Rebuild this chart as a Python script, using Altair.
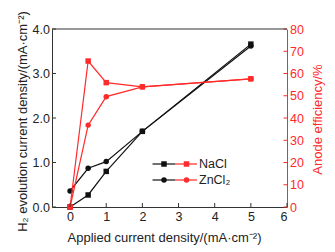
import altair as alt
import pandas as pd

# Data
applied = [0, 0.5, 1, 2, 5]
h2_nacl = [0.0, 0.27, 0.80, 1.70, 3.66]
h2_zncl2 = [0.36, 0.87, 1.02, 1.70, 3.62]
eff_nacl = [0.0, 65.6, 55.9, 54.0, 57.6]
eff_zncl2 = [0.0, 36.8, 49.6, 54.0, 57.6]

series_names = ["NaCl", "ZnCl2"]
legend_labels = ["NaCl", "ZnCl₂"]
x_ticks = [0, 1, 2, 3, 4, 5, 6]
left_ticks = [0, 1, 2, 3, 4]
right_ticks = [0, 10, 20, 30, 40, 50, 60, 70, 80]

BLACK = "#111111"
RED = "#ff2a2a"
AXIS = "#333333"
FONT = "Liberation Sans"
W, H = 235, 178

df = pd.DataFrame({
    "x": applied * 2,
    "h2": h2_nacl + h2_zncl2,
    "eff": eff_nacl + eff_zncl2,
    "series": [series_names[0]] * len(applied) + [series_names[1]] * len(applied),
})

xscale = alt.Scale(domain=[-0.5, 6], nice=False, zero=False)
lscale = alt.Scale(domain=[0, 4], nice=False)
rscale = alt.Scale(domain=[0, 80], nice=False)
shape_scale = alt.Scale(domain=series_names, range=["square", "circle"])

x_axis = alt.Axis(
    values=x_ticks, ticks=False, labelPadding=3, domainColor=AXIS,
    labelColor="#222", labelFontSize=12.5, labelFont=FONT, grid=False,
    labelOverlap=False,
    title="Applied current density/(mA·cm⁻²)", titleFont=FONT, titleFontSize=13,
    titleFontWeight="normal", titleColor="#222", titleX=112, titleY=34,
    titleBaseline="alphabetic")
left_axis = alt.Axis(
    values=left_ticks, format=".1f", ticks=False, labelPadding=2.5,
    domainColor=AXIS, labelColor="#222", labelFontSize=12.5, labelFont=FONT,
    grid=False, labelOverlap=False,
    title="H₂ evolution current density/(mA·cm⁻²)",
    titleFont=FONT, titleFontSize=13, titleFontWeight="normal",
    titleColor="#222", titleX=-25.5, titleY=92, titleAngle=270,
    titleBaseline="alphabetic")
right_axis = alt.Axis(
    orient="right", values=right_ticks, format="d", ticks=False, labelPadding=2.5,
    domainColor=RED, labelColor=RED, labelFontSize=12.5, labelFont=FONT,
    grid=False, labelOverlap=False,
    title="Anode efficiency/%", titleFont=FONT, titleFontSize=13,
    titleFontWeight="normal", titleColor=RED, titleX=34, titleY=90,
    titleAngle=270, titleBaseline="alphabetic")

X = alt.X("x:Q", scale=xscale, axis=x_axis)

base = alt.Chart(df)

black_line = base.mark_line(color=BLACK, strokeWidth=1.2).encode(
    x=X, y=alt.Y("h2:Q", scale=lscale, axis=left_axis), detail="series:N")
black_pts = base.mark_point(filled=True, color=BLACK, opacity=1, size=30).encode(
    x=X, y=alt.Y("h2:Q", scale=lscale, axis=left_axis),
    shape=alt.Shape("series:N", scale=shape_scale, legend=None))
left_tick_marks = alt.Chart(pd.DataFrame({"h2": left_ticks})).mark_rule(
    color=AXIS, strokeWidth=1).encode(
    y=alt.Y("h2:Q", scale=lscale, axis=left_axis), x=alt.value(0), x2=alt.value(4))

left = alt.layer(black_line, black_pts, left_tick_marks)

red_line = base.mark_line(color=RED, strokeWidth=1.2).encode(
    x=X, y=alt.Y("eff:Q", scale=rscale, axis=right_axis), detail="series:N")
red_pts = base.mark_point(filled=True, color=RED, opacity=1, size=30).encode(
    x=X, y=alt.Y("eff:Q", scale=rscale, axis=right_axis),
    shape=alt.Shape("series:N", scale=shape_scale, legend=None))
right_tick_marks = alt.Chart(pd.DataFrame({"eff": right_ticks})).mark_rule(
    color=RED, strokeWidth=1).encode(
    y=alt.Y("eff:Q", scale=rscale, axis=right_axis),
    x=alt.value(W - 3.5), x2=alt.value(W))

right = alt.layer(red_line, red_pts, right_tick_marks)

x_tick_marks = alt.Chart(pd.DataFrame({"x": x_ticks})).mark_rule(
    color=AXIS, strokeWidth=1).encode(
    x=X, y=alt.value(H), y2=alt.value(H - 4))

top_border = alt.Chart(pd.DataFrame({"v": [0]})).mark_rule(
    color=AXIS, strokeWidth=1).encode(
    x=alt.value(0), x2=alt.value(W), y=alt.value(0))

# Legend (one row per series)
leg_df = pd.DataFrame({"series": series_names, "label": legend_labels})
row_y = [135, 151]
legend_layers = []
for name, ry in zip(series_names, row_y):
    src = alt.Chart(leg_df).transform_filter(alt.datum.series == name)
    legend_layers += [
        src.mark_rule(color=BLACK, strokeWidth=1.2).encode(
            y=alt.value(ry), x=alt.value(100.5), x2=alt.value(123)),
        src.mark_rule(color=RED, strokeWidth=1.2).encode(
            y=alt.value(ry), x=alt.value(123), x2=alt.value(145)),
        src.mark_point(filled=True, color=BLACK, opacity=1, size=30).encode(
            y=alt.value(ry), x=alt.value(112),
            shape=alt.Shape("series:N", scale=shape_scale, legend=None)),
        src.mark_point(filled=True, color=RED, opacity=1, size=30).encode(
            y=alt.value(ry), x=alt.value(134.5),
            shape=alt.Shape("series:N", scale=shape_scale, legend=None)),
        src.mark_text(align="left", baseline="middle", font=FONT, fontSize=12.5,
                      color="#222").encode(
            y=alt.value(ry), x=alt.value(147), text="label:N"),
    ]

chart = alt.layer(left, right, x_tick_marks, top_border, *legend_layers).resolve_scale(
    y="independent"
).properties(
    width=W, height=H,
    autosize=alt.AutoSizeParams(type="none"),
    padding={"left": 52, "top": 29, "right": 48, "bottom": 45},
    background="white",
).configure_view(stroke=None)

chart.save("out.html", embed_options={"renderer": "svg", "actions": False})
